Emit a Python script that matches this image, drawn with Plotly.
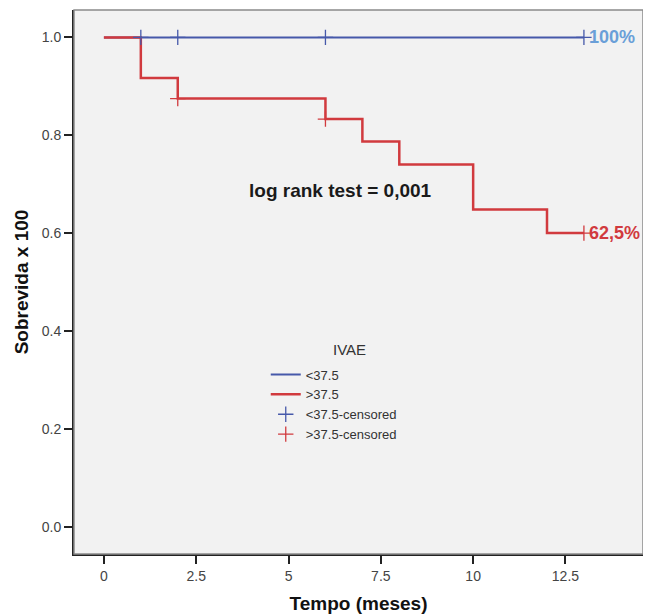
import plotly.graph_objects as go

# Data
low_t = [0, 13]
low_s = [1.0, 1.0]
low_cens_t = [1, 2, 6, 13]
low_cens_s = [1.0, 1.0, 1.0, 1.0]

high_t = [0, 1, 2, 6, 7, 8, 10, 12, 13]
high_s = [1.0, 0.917, 0.875, 0.833, 0.787, 0.740, 0.648, 0.600, 0.600]
high_cens_t = [2, 6, 13]
high_cens_s = [0.875, 0.833, 0.600]

x_ticks = [0, 2.5, 5, 7.5, 10, 12.5]
x_tick_labels = ["0", "2.5", "5", "7.5", "10", "12.5"]
y_ticks = [0.0, 0.2, 0.4, 0.6, 0.8, 1.0]

BLUE = "#4659aa"
RED = "#d13a3e"
LIGHTBLUE = "#6a9fd8"
FONT = "Liberation Sans, Arial, sans-serif"

fig = go.Figure()
fig.add_trace(go.Scatter(x=low_t, y=low_s, mode="lines", line=dict(color=BLUE, width=2, shape="hv"),
                         name="<37.5"))
fig.add_trace(go.Scatter(x=high_t, y=high_s, mode="lines", line=dict(color=RED, width=2.5, shape="hv"),
                         name=">37.5"))
fig.add_trace(go.Scatter(x=low_cens_t, y=low_cens_s, mode="markers",
                         marker=dict(symbol="cross-thin", size=11, line=dict(color=BLUE, width=1.3)),
                         name="<37.5-censored"))
fig.add_trace(go.Scatter(x=high_cens_t, y=high_cens_s, mode="markers",
                         marker=dict(symbol="cross-thin", size=11, line=dict(color=RED, width=1.3)),
                         name=">37.5-censored"))

fig.add_annotation(x=13.08, y=1.0, text="<b>100%</b>", showarrow=False, xanchor="left",
                   font=dict(family=FONT, size=18, color=LIGHTBLUE))
fig.add_annotation(x=13.08, y=0.60, text="<b>62,5%</b>", showarrow=False, xanchor="left",
                   font=dict(family=FONT, size=18, color=RED))
fig.add_annotation(x=6.4, y=0.688, text="<b>log rank test = 0,001</b>", showarrow=False,
                   font=dict(family=FONT, size=19, color="#1a1a1a"))
fig.add_annotation(x=6.65, y=0.362, text="IVAE", showarrow=False,
                   font=dict(family=FONT, size=15, color="#333333"))

fig.add_shape(type="rect", xref="paper", yref="paper", x0=0, y0=0, x1=1, y1=1,
              line=dict(color="#8a8a8a", width=1.5), layer="above")

fig.update_layout(
    width=643, height=608,
    margin=dict(l=66, r=8, t=2, b=62),
    paper_bgcolor="white", plot_bgcolor="#f2f2f2",
    font=dict(family=FONT, size=13, color="#333333"),
    legend=dict(x=0.337, y=0.3575, xanchor="left", yanchor="top",
                bgcolor="rgba(0,0,0,0)",
                font=dict(size=13, color="#333333"), itemwidth=30, tracegroupgap=0),
    xaxis=dict(range=[-0.81, 14.6], tickvals=x_ticks, ticktext=x_tick_labels,
               ticks="outside", ticklen=8, tickwidth=1.5, tickcolor="#222222",
               showline=True, linecolor="#222222", linewidth=2, showgrid=False, zeroline=False,
               title=dict(text="<b>Tempo (meses)</b>", font=dict(size=19, color="#111111"), standoff=14),
               tickfont=dict(size=14, color="#444444")),
    yaxis=dict(range=[-0.056, 1.056], tickvals=y_ticks, tickformat=".1f",
               ticks="outside", ticklen=8, tickwidth=1.5, tickcolor="#222222",
               showline=True, linecolor="#222222", linewidth=2, showgrid=False, zeroline=False,
               title=dict(text="<b>Sobrevida x 100</b>", font=dict(size=19, color="#111111"), standoff=8),
               tickfont=dict(size=14, color="#444444")),
)

fig.write_html("out.html")
